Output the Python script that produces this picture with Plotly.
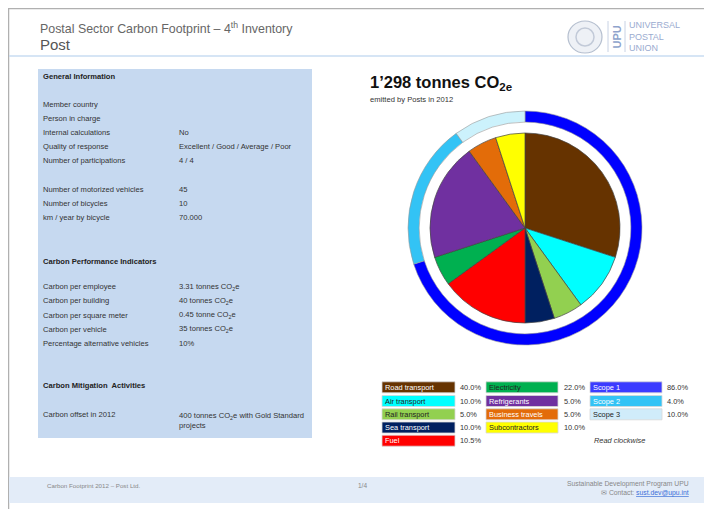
"""Postal Sector Carbon Footprint - page recreated with Plotly"""

import plotly.graph_objects as go

W, H = 712, 509
OFF = 8  # the browser's default body margin
FONT = "Arial, Liberation Sans, sans-serif"

# emission sources (inner pie, read clockwise from 12 o'clock)
categories = ["Road transport", "Air transport", "Rail transport", "Sea transport", "Fuel",
              "Electricity", "Refrigerants", "Business travels", "Subcontractors"]
pie_values = [30, 10, 5, 5, 15, 5, 20, 5, 5]
legend_pct = ["40.0%", "10.0%", "5.0%", "10.0%", "10.5%", "22.0%", "5.0%", "5.0%", "10.0%"]
cat_colors = ["#663300", "#00ffff", "#92d050", "#002060", "#ff0000",
              "#00b050", "#7030a0", "#e36c09", "#ffff00"]
cat_text = ["white", "#222", "#222", "white", "white", "#222", "white", "white", "#222"]

# scopes (outer ring)
scopes = ["Scope 1", "Scope 2", "Scope 3"]
scope_values = [70, 20, 10]
scope_pct = ["86.0%", "4.0%", "10.0%"]
ring_colors = ["#0000ff", "#33c3f5", "#ccf2fc"]
scope_box_colors = ["#3b3bff", "#33c3f5", "#d0ecfa"]
scope_text = ["white", "white", "#222"]

general_labels = ["Member country", "Person in charge", "Internal calculations", "Quality of response",
                  "Number of participations", "", "Number of motorized vehicles",
                  "Number of bicycles", "km / year by bicycle"]
general_values = ["", "", "No", "Excellent / Good / Average / Poor", "4 / 4", "", "45", "10", "70.000"]

kpi_labels = ["Carbon per employee", "Carbon per building", "Carbon per square meter",
              "Carbon per vehicle", "Percentage alternative vehicles"]
kpi_values = ["3.31 tonnes CO<sub>2</sub>e", "40 tonnes CO<sub>2</sub>e", "0.45 tonne CO<sub>2</sub>e",
              "35 tonnes CO<sub>2</sub>e", "10%"]

total_text = "1’298 tonnes CO<sub>2e</sub>"

fig = go.Figure()
shapes = []
ann = []


def text(x, y, s, size=7.6, color="#333", anchor="left", bold=False, italic=False, **kw):
    if not s:
        return
    if bold:
        s = f"<b>{s}</b>"
    if italic:
        s = f"<i>{s}</i>"
    # annotations carry ~2px of padding; pull the text back onto its anchor
    x = x - 2 if anchor == "left" else x + 2 if anchor == "right" else x
    ann.append(dict(x=x, y=y, xref="x", yref="y", text=s, showarrow=False, xanchor=anchor,
                    yanchor="middle", font=dict(size=size, color=color, family=FONT), **kw))


def rect(x0, y0, x1, y1, fill, line="rgba(0,0,0,0)", lw=0):
    shapes.append(dict(type="rect", x0=x0, y0=y0, x1=x1, y1=y1, xref="x", yref="y",
                       fillcolor=fill, line=dict(color=line, width=lw), layer="below"))


# page frame, header and footer
rect(8.5, 8.5, W + 10, H + 10, "white", "#b0b0b0", 1.5)
shapes.append(dict(type="line", x0=9, x1=W, y0=56, y1=56, xref="x", yref="y",
                   line=dict(color="#c9dcf2", width=1.5)))
rect(9, 477, W, 503, "#e3ecf8")
text(40, 28, "Postal Sector Carbon Footprint – 4<sup>th</sup> Inventory", 12.4, "#666")
text(40, 44, "Post", 15, "#555")

# UPU logo
shapes.append(dict(type="circle", x0=568, x1=602, y0=21, y1=53, xref="x", yref="y",
                   fillcolor="#eef1f6", line=dict(color="#b5bfcf", width=1.2)))
shapes.append(dict(type="circle", x0=576, x1=594, y0=28, y1=46, xref="x", yref="y",
                   line=dict(color="#c2cad8", width=1.5)))
shapes.append(dict(type="line", x0=608, x1=608, y0=21, y1=52, xref="x", yref="y",
                   line=dict(color="#c8d2e4", width=1)))
shapes.append(dict(type="line", x0=625, x1=625, y0=21, y1=52, xref="x", yref="y",
                   line=dict(color="#c8d2e4", width=1)))
text(616.5, 37, "UPU", 11, "#8ea3cc", anchor="center", bold=True, textangle=-90)
for i, w in enumerate(["UNIVERSAL", "POSTAL", "UNION"]):
    text(629, 25 + i * 11.7, w, 9, "#9aabd0")

# left information panel
rect(38, 69, 312, 438, "#c6d9f0")
text(43, 76, "General Information", 7.6, "#222", bold=True)
for i, (lab, val) in enumerate(zip(general_labels, general_values)):
    y = 104 + i * 14.2
    text(43, y, lab)
    text(179, y, val)
text(43, 261, "Carbon Performance Indicators", 7.6, "#222", bold=True)
for i, (lab, val) in enumerate(zip(kpi_labels, kpi_values)):
    y = 286.7 + i * 14.2
    text(43, y, lab)
    text(179, y, val)
text(43, 385.7, "Carbon Mitigation  Activities", 7.6, "#222", bold=True)
text(43, 414, "Carbon offset in 2012")
text(179, 420.5, "400 tonnes CO<sub>2</sub>e with Gold Standard<br>projects", align="left")

# headline
text(370, 83, total_text, 16.5, "#111", bold=True)
text(370, 99, "emitted by Posts in 2012", 7.6, "#333")

# pies: centre (525, 228), inner radius 95, ring 106..117
cx, cy = 525, 228
PW, PH = W - OFF, H - OFF


def dom(r):
    return dict(x=[(cx - r - OFF) / PW, (cx + r - OFF) / PW],
                y=[1 - (cy + r - OFF) / PH, 1 - (cy - r - OFF) / PH])


fig.add_trace(go.Pie(labels=categories, values=pie_values, sort=False, direction="clockwise",
                     rotation=0, domain=dom(95), textinfo="none", hoverinfo="skip",
                     marker=dict(colors=cat_colors, line=dict(color="#444", width=0.7)),
                     showlegend=False))
fig.add_trace(go.Pie(labels=scopes, values=scope_values, sort=False, direction="clockwise",
                     rotation=0, domain=dom(117), hole=0.905, textinfo="none", hoverinfo="skip",
                     marker=dict(colors=ring_colors, line=dict(color="#999", width=0.6)),
                     showlegend=False))

# legend table
rows_y = [387.3, 401, 414.3, 427.5, 440.7]
cols = [(382, 455, 460), (486, 558, 564)]
for i, (name, pct) in enumerate(zip(categories, legend_pct)):
    c, r = divmod(i, 5)
    x0, x1, xp = cols[c]
    y = rows_y[r]
    rect(x0, y - 5.5, x1, y + 5.5, cat_colors[i], "#d8d8d8", 0.8)
    text(x0 + 3, y, name, 7.4, cat_text[i])
    text(xp, y, pct, 7.4, "#333")
for i, (name, pct) in enumerate(zip(scopes, scope_pct)):
    y = rows_y[i]
    rect(590, y - 5.5, 662, y + 5.5, scope_box_colors[i], "#d8d8d8", 0.8)
    text(593, y, name, 7.4, scope_text[i])
    text(667, y, pct, 7.4, "#333")
text(594, rows_y[4], "Read clockwise", 7.4, "#333", italic=True)

# footer
text(47, 485, "Carbon Footprint 2012 – Post Ltd.", 6.2, "#888")
text(362, 485, "1/4", 6.5, "#888", anchor="center")
text(689, 484, "Sustainable Development Program UPU", 6.8, "#888", anchor="right")
text(689, 492.5, "✉ Contact: <span style='color:#3a6fd8'><u>sust.dev@upu.int</u></span>", 6.8, "#888",
     anchor="right")

fig.update_layout(
    width=PW, height=PH, margin=dict(l=0, r=0, t=0, b=0),
    paper_bgcolor="white", plot_bgcolor="white",
    xaxis=dict(range=[OFF, W], visible=False, fixedrange=True),
    yaxis=dict(range=[H, OFF], visible=False, fixedrange=True),
    shapes=shapes, annotations=ann, showlegend=False,
)

fig.write_html("out.html", config={"displayModeBar": False})
